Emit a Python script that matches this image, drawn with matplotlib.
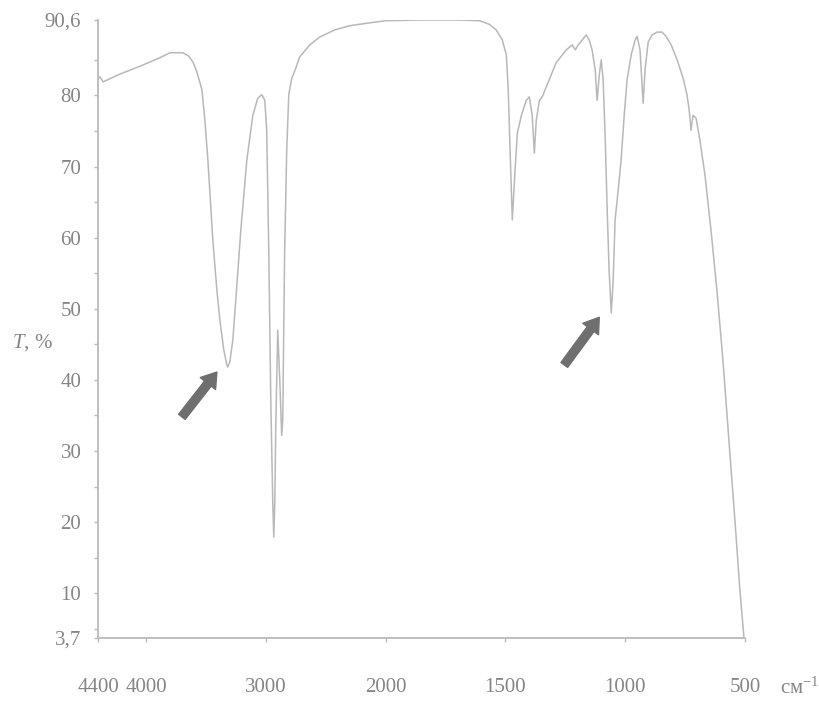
import numpy as np
import matplotlib
matplotlib.use('Agg')
import matplotlib.pyplot as plt
from matplotlib.ticker import FixedLocator

plt.rcParams['font.family'] = ['Liberation Serif', 'DejaVu Serif']
plt.rcParams['mathtext.fontset'] = 'custom'
plt.rcParams['mathtext.rm'] = 'Liberation Serif'
plt.rcParams['mathtext.it'] = 'Liberation Serif:italic'

# ---- data ----
wavenumber = [4400, 4383, 4358, 4217, 4050, 3883, 3800, 3692, 3642, 3608, 3575, 3533,
              3508, 3483, 3442, 3408, 3383, 3350, 3325, 3317, 3300, 3275, 3250, 3208,
              3158, 3108, 3067, 3033, 3008, 2992, 2975, 2958, 2942, 2933, 2925, 2917,
              2900, 2883, 2867, 2858, 2850, 2842, 2825, 2808, 2783, 2750, 2717, 2633,
              2550, 2425, 2300, 2133, 2000, 1858, 1692, 1608, 1567, 1538, 1513, 1496,
              1488, 1479, 1471, 1462, 1450, 1433, 1413, 1400, 1388, 1379, 1371, 1358,
              1346, 1317, 1288, 1262, 1246, 1221, 1208, 1196, 1179, 1163, 1150, 1138,
              1125, 1117, 1108, 1100, 1092, 1083, 1075, 1067, 1058, 1050, 1042, 1029,
              1017, 1004, 992, 975, 958, 950, 938, 925, 917, 904, 888, 867, 846, 829,
              808, 783, 758, 742, 733, 725, 717, 704, 688, 667, 642, 617, 592, 567,
              542, 521, 504]
transmittance = [82.4, 82.6, 81.9, 83.0, 84.1, 85.3, 86.0, 86.0, 85.5, 84.7, 83.3, 80.8,
                 76.5, 70.9, 59.7, 52.6, 48.4, 44.2, 42.1, 41.8, 42.5, 45.6, 51.2, 61.1,
                 70.9, 77.2, 79.6, 80.1, 79.3, 75.1, 58.3, 37.2, 23.1, 17.9, 22.4, 32.9,
                 47.0, 40.0, 32.2, 34.3, 47.0, 58.3, 72.3, 80.1, 82.4, 83.8, 85.4, 87.1,
                 88.2, 89.2, 89.8, 90.2, 90.5, 90.6, 90.6, 90.5, 90.0, 89.2, 87.8, 85.7,
                 80.8, 70.9, 62.5, 68.1, 74.7, 77.2, 79.3, 79.8, 77.2, 71.9, 76.5, 79.3,
                 79.8, 82.2, 84.6, 85.7, 86.4, 87.1, 86.4, 87.1, 87.8, 88.5, 87.8, 86.4,
                 83.6, 79.3, 82.9, 85.0, 82.2, 73.7, 63.9, 55.4, 49.4, 54.0, 62.5, 66.7,
                 70.9, 77.2, 82.2, 85.7, 87.8, 88.3, 86.4, 78.9, 83.6, 87.5, 88.5, 88.9,
                 88.9, 88.3, 87.1, 85.0, 82.4, 80.1, 78.0, 75.1, 77.2, 76.8, 73.7, 68.8,
                 61.1, 52.6, 42.8, 31.5, 20.3, 10.4, 3.7]

x_ticks = [4400, 4000, 3000, 2000, 1500, 1000, 500]
x_tick_labels = ['4400', '4000', '3000', '2000', '1500', '1000', '500']
y_ticks = [3.7, 10, 20, 30, 40, 50, 60, 70, 80, 90.6]
y_tick_labels = ['3,7', '10', '20', '30', '40', '50', '60', '70', '80', '90,6']
y_minor_ticks = [5, 15, 25, 35, 45, 55, 65, 75, 85]

arrow_tips = [(3408, 41.1), (1108, 48.8)]
arrow_tails = [(3700, 34.8), (1254, 42.1)]

x_label = 'см$^{-1}$'
y_label = '$T$, %'


# wavenumber axis: scale doubles below 2000 cm-1
def fwd(w):
    w = np.asarray(w, dtype=float)
    return np.where(w >= 2000, w, 2 * w - 2000)


def inv(p):
    p = np.asarray(p, dtype=float)
    return np.where(p >= 2000, p, (p + 2000) / 2)


line_col = '#b8b8b8'
axis_col = '#bababa'
text_col = '#858585'

fig = plt.figure(figsize=(8.19, 7.05), dpi=100)
ax = fig.add_axes([0.1197, 0.095, 0.7899, 0.8766])
ax.set_xscale('function', functions=(fwd, inv))

ax.plot(wavenumber, transmittance, color=line_col, lw=1.1, solid_joinstyle='round')

ax.set_xlim(4400, 500)
ax.set_ylim(3.7, 90.6)

for s in ['top', 'right']:
    ax.spines[s].set_visible(False)
for s in ['left', 'bottom']:
    ax.spines[s].set_color(axis_col)
    ax.spines[s].set_linewidth(1.3)

ax.xaxis.set_major_locator(FixedLocator(x_ticks))
ax.set_xticklabels(x_tick_labels)
ax.xaxis.set_minor_locator(FixedLocator([]))
ax.yaxis.set_major_locator(FixedLocator(y_ticks))
ax.set_yticklabels(y_tick_labels)
ax.yaxis.set_minor_locator(FixedLocator(y_minor_ticks))

ax.tick_params(axis='x', which='major', length=3, width=1, color=axis_col,
               labelsize=15, labelcolor=text_col, pad=26)
ax.tick_params(axis='y', which='major', length=3, width=1, color=axis_col,
               labelsize=15, labelcolor=text_col, pad=9)
ax.tick_params(axis='y', which='minor', length=3, width=1, color=axis_col)

for tip, tail in zip(arrow_tips, arrow_tails):
    ax.annotate('', xy=tip, xytext=tail,
                arrowprops=dict(arrowstyle='simple,head_width=1.4,head_length=1.05,tail_width=0.6',
                                color='#6f6f6f', shrinkA=0, shrinkB=0, mutation_scale=10))

fig.text(0.0147, 0.5135, y_label, fontsize=15, color=text_col, ha='left', va='center')
fig.text(0.952, 0.024, x_label, fontsize=15, color=text_col, ha='left', va='center')

fig.savefig('out.png', dpi=100)
